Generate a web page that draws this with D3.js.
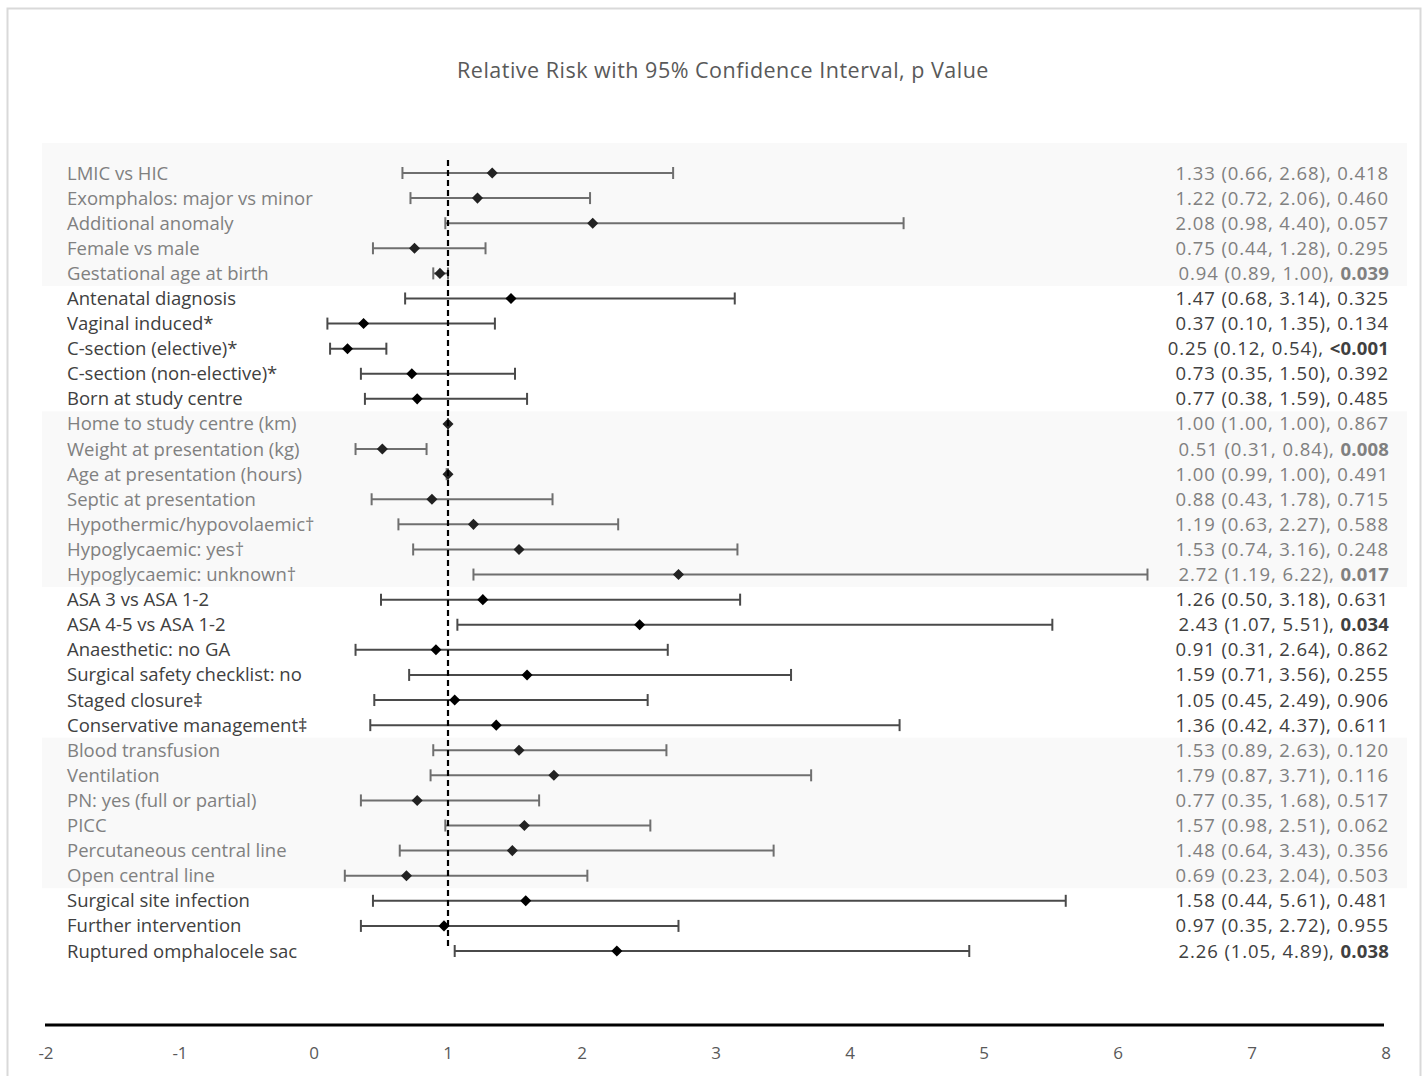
<!DOCTYPE html>
<html><head><meta charset="utf-8">
<script src="https://cdn.jsdelivr.net/npm/d3@7"></script>
<style>body{margin:0;background:#fff}svg{display:block}text{font-family:"Open Sans",sans-serif}</style>
</head><body>
<script>
const labels = ["LMIC vs HIC","Exomphalos: major vs minor","Additional anomaly","Female vs male","Gestational age at birth","Antenatal diagnosis","Vaginal induced*","C-section (elective)*","C-section (non-elective)*","Born at study centre","Home to study centre (km)","Weight at presentation (kg)","Age at presentation (hours)","Septic at presentation","Hypothermic/hypovolaemic\u2020","Hypoglycaemic: yes\u2020","Hypoglycaemic: unknown\u2020","ASA 3 vs ASA 1-2","ASA 4-5 vs ASA 1-2","Anaesthetic: no GA","Surgical safety checklist: no","Staged closure\u2021","Conservative management\u2021","Blood transfusion","Ventilation","PN: yes (full or partial)","PICC","Percutaneous central line","Open central line","Surgical site infection","Further intervention","Ruptured omphalocele sac"];
const rr =    [1.33,1.22,2.08,0.75,0.94,1.47,0.37,0.25,0.73,0.77,1.00,0.51,1.00,0.88,1.19,1.53,2.72,1.26,2.43,0.91,1.59,1.05,1.36,1.53,1.79,0.77,1.57,1.48,0.69,1.58,0.97,2.26];
const lower = [0.66,0.72,0.98,0.44,0.89,0.68,0.10,0.12,0.35,0.38,1.00,0.31,0.99,0.43,0.63,0.74,1.19,0.50,1.07,0.31,0.71,0.45,0.42,0.89,0.87,0.35,0.98,0.64,0.23,0.44,0.35,1.05];
const upper = [2.68,2.06,4.40,1.28,1.00,3.14,1.35,0.54,1.50,1.59,1.00,0.84,1.00,1.78,2.27,3.16,6.22,3.18,5.51,2.64,3.56,2.49,4.37,2.63,3.71,1.68,2.51,3.43,2.04,5.61,2.72,4.89];
const pvals = ["0.418","0.460","0.057","0.295","0.039","0.325","0.134","<0.001","0.392","0.485","0.867","0.008","0.491","0.715","0.588","0.248","0.017","0.631","0.034","0.862","0.255","0.906","0.611","0.120","0.116","0.517","0.062","0.356","0.503","0.481","0.955","0.038"];
const significant = [0,0,0,0,1,0,0,1,0,0,0,1,0,0,0,0,1,0,1,0,0,0,0,0,0,0,0,0,0,0,0,1];
const groups = [0,0,0,0,0,1,1,1,1,1,2,2,2,2,2,2,2,3,3,3,3,3,3,4,4,4,4,4,4,5,5,5];
const xTicks = [-2,-1,0,1,2,3,4,5,6,7,8];
const title = "Relative Risk with 95% Confidence Interval, p Value";

const W = 1427, H = 1076;
const svg = d3.select("body").append("svg").attr("width", W).attr("height", H);

svg.append("rect").attr("x",7.5).attr("y",8.5).attr("width",1413).attr("height",1080)
  .attr("fill","#fff").attr("stroke","#d9d9d9").attr("stroke-width",2);

const x = d3.scaleLinear().domain([-2, 8]).range([46, 1386]);
const y = d3.scalePoint().domain(d3.range(labels.length)).range([173, 951]);
const step = y.step();

svg.append("text").attr("x", 723).attr("y", 78).attr("text-anchor","middle")
  .attr("font-size", 21.5).attr("letter-spacing", 0.5).attr("fill","#595959").text(title);

const bandGroups = d3.groups(d3.range(labels.length), i => groups[i]);
bandGroups.forEach(([g, rows]) => {
  if (g % 2 !== 0) return;
  const first = rows[0], last = rows[rows.length-1];
  const top = first === 0 ? 143 : y(first) - step/2;
  const bot = y(last) + step/2;
  svg.append("rect").attr("x",42).attr("y",top).attr("width",1365).attr("height",bot-top).attr("fill","#f9f9f9");
});

const shaded = i => groups[i] % 2 === 0;
const textCol = i => shaded(i) ? "#808080" : "#404040";
const lineCol = i => shaded(i) ? "#6f6f6f" : "#4a4a4a";

const rows = svg.append("g").selectAll("g").data(d3.range(labels.length)).join("g")
  .attr("transform", i => `translate(0,${y(i)})`);

rows.append("text").attr("x", 67).attr("y", 6.5).attr("font-size", 18.5)
  .attr("fill", textCol).text(i => labels[i]);

const rt = rows.append("text").attr("x", 1389).attr("y", 6.5).attr("font-size", 18.5)
  .attr("text-anchor","end").attr("fill", textCol);
rt.append("tspan").attr("letter-spacing", 0.9).text(i => `${rr[i].toFixed(2)} (${lower[i].toFixed(2)}, ${upper[i].toFixed(2)}), `);
rt.append("tspan").attr("font-weight", i => significant[i] ? "bold" : "normal")
  .attr("letter-spacing", i => significant[i] ? 0.2 : 0.9).text(i => pvals[i]);

rows.append("line").attr("x1", i => x(lower[i])).attr("x2", i => x(upper[i]))
  .attr("stroke", lineCol).attr("stroke-width", 2);
rows.append("line").attr("x1", i => x(lower[i])).attr("x2", i => x(lower[i])).attr("y1",-6).attr("y2",6)
  .attr("stroke", lineCol).attr("stroke-width", 2);
rows.append("line").attr("x1", i => x(upper[i])).attr("x2", i => x(upper[i])).attr("y1",-6).attr("y2",6)
  .attr("stroke", lineCol).attr("stroke-width", 2);

svg.append("line").attr("x1", x(1)).attr("x2", x(1)).attr("y1", 160).attr("y2", 946)
  .attr("stroke","#000").attr("stroke-width",2.2).attr("stroke-dasharray","6,4");

rows.append("path").attr("d", d3.symbol().type(d3.symbolDiamond2).size(78)())
  .attr("transform", i => `translate(${x(rr[i])},0)`).attr("fill", i => shaded(i) ? "#222" : "#000");

const ax = svg.append("g").attr("transform","translate(0,1025)");
ax.append("line").attr("x1", 45).attr("x2", 1384).attr("stroke","#000").attr("stroke-width",3);
ax.selectAll("text").data(xTicks).join("text").attr("x", d => x(d)).attr("y", 34)
  .attr("text-anchor","middle").attr("font-size",17).attr("fill","#595959").text(d => d);
</script>
</body></html>
